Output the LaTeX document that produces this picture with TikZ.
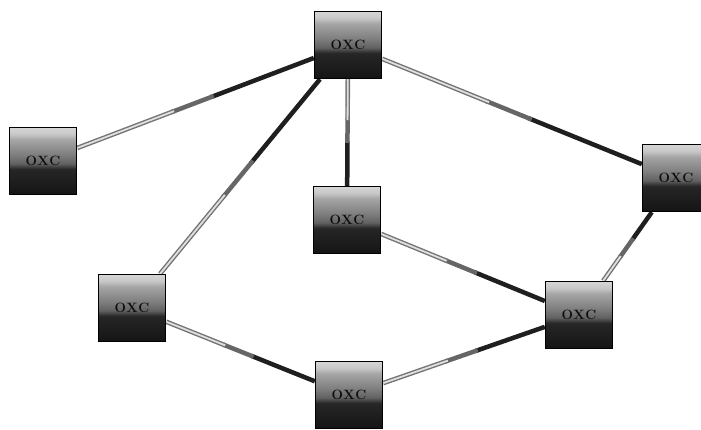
\documentclass[tikz,border=0pt]{standalone}
\usetikzlibrary{calc,backgrounds}
\pgfdeclareverticalshading{oxcshade}{100bp}{color(0bp)=(black!92); color(25bp)=(black!92); color(44bp)=(black!85); color(48bp)=(black!62); color(55bp)=(black!50); color(61bp)=(black!42); color(66bp)=(black!35); color(70bp)=(black!22); color(75bp)=(black!16); color(100bp)=(black!16)}
\tikzset{
  oxc/.style={draw=black, line width=1.4pt, shading=oxcshade, minimum width=67pt, minimum height=67pt, inner sep=0pt, font=\bfseries\fontsize{13.5}{13.5}\selectfont, text=black!95},
  darkseg/.style={line width=4.5pt, black!88},
  midseg/.style={line width=4.5pt, black!60},
  lightouter/.style={line width=4.6pt, black!55},
  lightinner/.style={line width=1.8pt, black!12},
}
\newcommand{\oxclink}[2]{%
  \draw[darkseg] (#1) -- ($(#1)!0.45!(#2)$);
  \draw[midseg] ($(#1)!0.44!(#2)$) -- ($(#1)!0.58!(#2)$);
  \draw[lightouter] ($(#1)!0.57!(#2)$) -- (#2);
  \draw[lightinner] ($(#1)!0.57!(#2)$) -- (#2);
}
\newcommand{\oxctext}{O\kern0.5pt X\kern0.5pt C}
\begin{document}
\begin{tikzpicture}[x=1pt,y=-1pt]
\useasboundingbox (0,0) rectangle (701,430);
\node[oxc] (top) at (348,45) {\oxctext};
\node[oxc] (left) at (43,161) {\oxctext};
\node[oxc] (mid) at (347,220) {\oxctext};
\node[oxc] (ll) at (132,308) {\oxctext};
\node[oxc] (bot) at (349,395) {\oxctext};
\node[oxc] (right) at (676,178) {\oxctext};
\node[oxc] (rl) at (579,315) {\oxctext};
\begin{pgfonlayer}{background}
\oxclink{top}{left}
\oxclink{top}{ll}
\oxclink{mid}{top}
\oxclink{right}{top}
\oxclink{rl}{mid}
\oxclink{right}{rl}
\oxclink{bot}{ll}
\oxclink{rl}{bot}
\end{pgfonlayer}
\end{tikzpicture}
\end{document}
